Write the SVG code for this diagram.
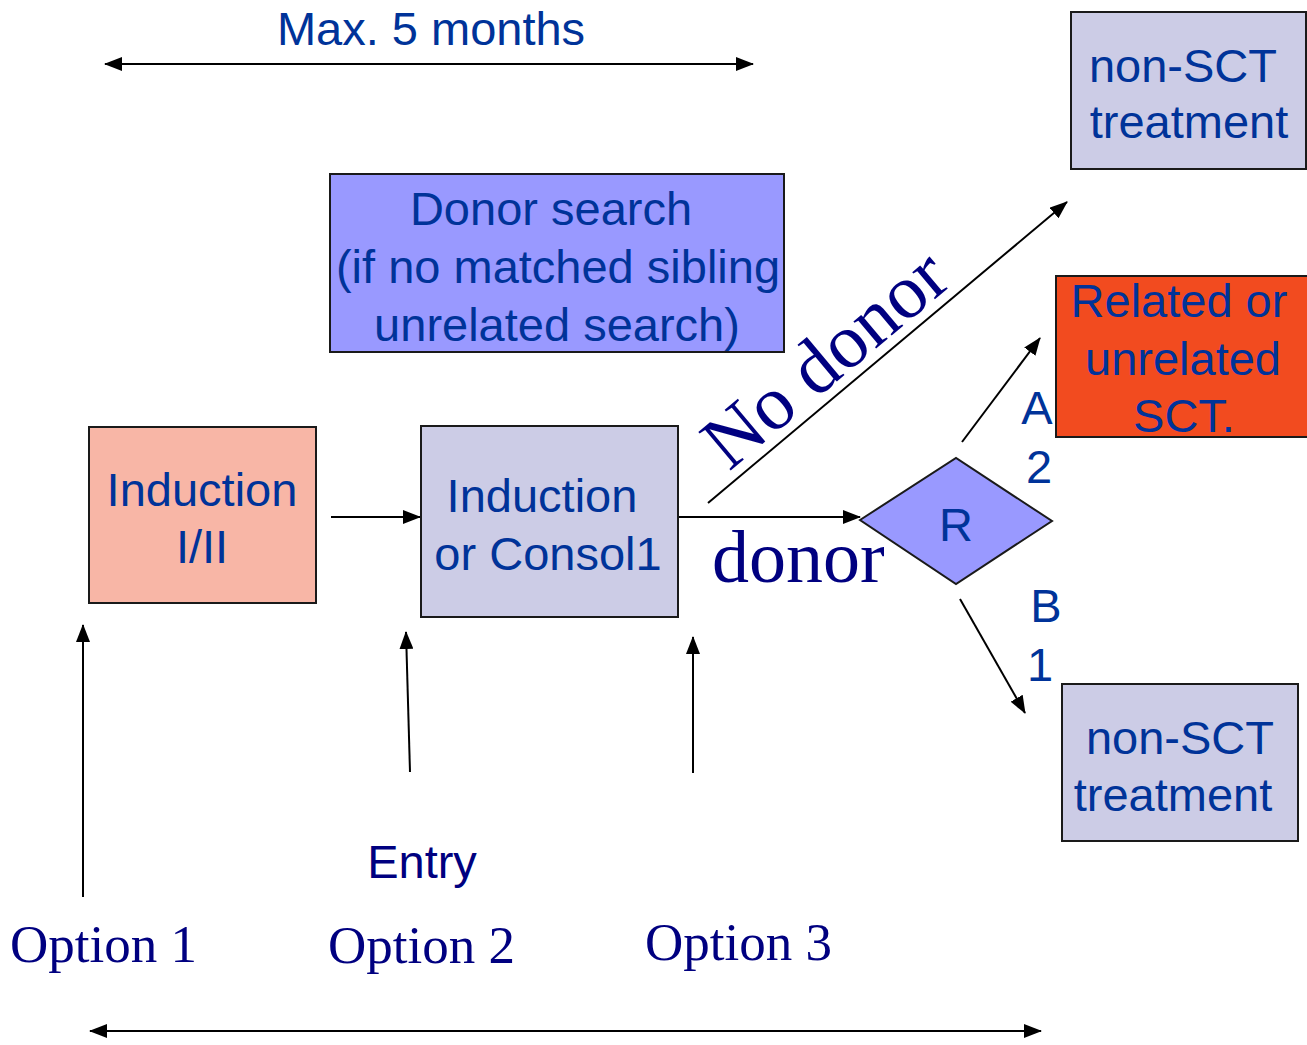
<svg xmlns="http://www.w3.org/2000/svg" width="1307" height="1045" viewBox="0 0 1307 1045">
<style>
.box{stroke:#1a1a1a;stroke-width:2}
.sans{font-family:"Liberation Sans",Arial,sans-serif;fill:#003399;font-size:47px;text-anchor:middle}
.serif{font-family:"Liberation Serif","Times New Roman",serif;fill:#000080}
.ln{stroke:#000;stroke-width:2;fill:none}
.arr{marker-end:url(#ah)}
.dbl{marker-end:url(#ah);marker-start:url(#ah)}
</style>
<defs>
<marker id="ah" viewBox="0 0 18 14" refX="17" refY="7" markerWidth="18" markerHeight="14" markerUnits="userSpaceOnUse" orient="auto-start-reverse">
<path d="M0,0 L18,7 L0,14 Z" fill="#000"/>
</marker>
</defs>
<rect width="1307" height="1045" fill="#fff"/>

<g id="connectors">
<line class="ln dbl" x1="105" y1="64" x2="753" y2="64"/>
<line class="ln dbl" x1="90" y1="1031" x2="1041" y2="1031"/>
<line class="ln arr" x1="331" y1="517" x2="420" y2="517"/>
<line class="ln arr" x1="679" y1="517" x2="860" y2="517"/>
<line class="ln arr" x1="708" y1="503" x2="1067" y2="202"/>
<line class="ln arr" x1="962" y1="442" x2="1040" y2="338"/>
<line class="ln arr" x1="960" y1="599" x2="1025" y2="713"/>
<line class="ln arr" x1="83" y1="897" x2="83" y2="625"/>
<line class="ln arr" x1="410" y1="772" x2="406" y2="632"/>
<line class="ln arr" x1="693" y1="773" x2="693" y2="637"/>
</g>

<g id="label-max">
<text class="sans" x="431" y="45">Max. 5 months</text>
</g>

<g id="node-nonsct-top">
<rect class="box" x="1071" y="12" width="235" height="157" fill="#CCCCE6"/>
<text class="sans" x="1183" y="82">non-SCT</text>
<text class="sans" x="1189" y="138">treatment</text>
</g>

<g id="node-donor-search">
<rect class="box" x="330" y="174" width="454" height="178" fill="#9999FF"/>
<text class="sans" x="551" y="225">Donor search</text>
<text class="sans" x="558" y="283">(if no matched sibling</text>
<text class="sans" x="557" y="341">unrelated search)</text>
</g>

<g id="node-sct">
<rect class="box" x="1056" y="276" width="252" height="161" fill="#F24B1F"/>
<text class="sans" x="1179" y="317">Related or</text>
<text class="sans" x="1183" y="375">unrelated</text>
<text class="sans" x="1184" y="432">SCT.</text>
</g>

<g id="node-induction">
<rect class="box" x="89" y="427" width="227" height="176" fill="#F8B6A6"/>
<text class="sans" x="202" y="506">Induction</text>
<text class="sans" x="202" y="563">I/II</text>
</g>

<g id="node-consol">
<rect class="box" x="421" y="426" width="257" height="191" fill="#CCCCE6"/>
<text class="sans" x="542" y="512">Induction</text>
<text class="sans" x="548" y="570">or Consol1</text>
</g>

<g id="node-r">
<polygon class="box" points="860,520 956,458 1052,521 956,584" fill="#9999FF"/>
<text class="sans" x="956" y="541">R</text>
</g>

<g id="node-nonsct-bottom">
<rect class="box" x="1062" y="684" width="236" height="157" fill="#CCCCE6"/>
<text class="sans" x="1180" y="754">non-SCT</text>
<text class="sans" x="1173" y="811">treatment</text>
</g>

<g id="labels">
<text class="serif" font-size="77" x="729" y="472" transform="rotate(-40 729 472)">No donor</text>
<text class="serif" font-size="74" x="712" y="582">donor</text>
<text class="sans" font-size="45" x="1037" y="424">A</text>
<text class="sans" font-size="45" x="1039" y="483">2</text>
<text class="sans" font-size="45" x="1046" y="622">B</text>
<text class="sans" font-size="45" x="1040" y="681">1</text>
<text class="sans" x="422" y="878" style="fill:#000080">Entry</text>
<text class="serif" font-size="53" x="10" y="962">Option 1</text>
<text class="serif" font-size="53" x="328" y="963">Option 2</text>
<text class="serif" font-size="53" x="645" y="960">Option 3</text>
</g>
</svg>
